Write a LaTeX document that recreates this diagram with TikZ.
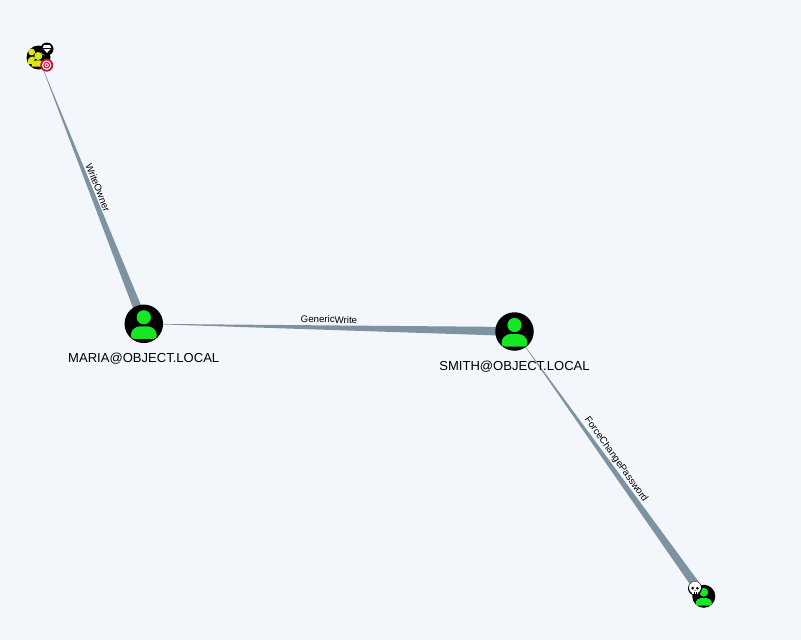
\documentclass[tikz,border=0pt]{standalone}
\usepackage{fontspec}
\setmainfont{Liberation Sans}
\usetikzlibrary{calc}
\definecolor{bgc}{HTML}{F3F7FB}
\definecolor{edgec}{HTML}{7D93A1}
\definecolor{usergreen}{HTML}{17E625}
\definecolor{groupyellow}{HTML}{DBE617}
\definecolor{targetred}{HTML}{C8102E}
\tikzset{
  disc/.style={circle,fill=black,inner sep=0pt,minimum size=#1},
  nodelabel/.style={font=\fontsize{13.05}{15}\selectfont,inner sep=0pt,text=black},
  edgelabel/.style={font=\fontsize{9.7}{11}\selectfont,inner sep=0pt,text=black},
  edgefill/.style={fill=edgec},
}
\newcommand{\personicon}[3]{% x y scale
  \begin{scope}[shift={(#1,#2)},scale=#3]
    \fill[usergreen] (0,-6.5) circle (7.1);
    \fill[usergreen] (-13,11.5) .. controls (-13,6) and (-8,2.5) .. (-4,2.5) -- (4,2.5) .. controls (8,2.5) and (13,6) .. (13,11.5) .. controls (13,13.5) and (12,15) .. (10,15) -- (-10,15) .. controls (-12,15) and (-13,13.5) .. (-13,11.5) -- cycle;
  \end{scope}}
\newcommand{\taperedge}[3]{% from to width
  \fill[edgefill] (#1.center) -- ($(#2.center)!#3!90:(#1.center)$) -- ($(#2.center)!#3!-90:(#1.center)$) -- cycle;}
\begin{document}
\begin{tikzpicture}[x=1pt,y=-1pt]
\useasboundingbox (0,0) rectangle (801,640);
\fill[bgc] (0,0) rectangle (801,640);
% node anchors
\coordinate (dom) at (38.5,57.5);
\coordinate (maria) at (143.8,323.8);
\coordinate (smith) at (514.5,331.5);
\coordinate (owned) at (703.8,596.3);
% edges
\taperedge{dom}{maria}{4.5pt}
\taperedge{maria}{smith}{4.5pt}
\taperedge{smith}{owned}{4.5pt}
% edge labels
\node[edgelabel,rotate=-68.5] (l1) at (98,187.5) {WriteOwner};
\node[edgelabel,rotate=-1.2] (l2) at (329,319.5) {GenericWrite};
\node[edgelabel,rotate=-54.4] (l3) at (616,459.5) {ForceChangePassword};
% big user nodes
\node[disc=38.5pt] (mariaN) at (maria) {};
\personicon{143.8}{323.8}{1}
\node[disc=38.5pt] (smithN) at (smith) {};
\personicon{514.5}{331.5}{1}
\node[nodelabel] (mariaL) at (143.7,358.3) {MARIA@OBJECT.LOCAL};
\node[nodelabel] (smithL) at (514.5,366.3) {SMITH@OBJECT.LOCAL};
% group node
\node[disc=24pt] (domN) at (dom) {};
\fill[groupyellow] (38.3,56) circle (4);
\fill[groupyellow] (31.7,52) circle (3.4);
\fill[groupyellow] (44.5,52) circle (3.4);
\fill[groupyellow] (27.5,63.8) .. controls (27.5,58) and (30,56.6) .. (33,56.6) -- (35.5,58) -- (32.5,63.8) -- cycle;
\fill[groupyellow] (31.5,66.5) .. controls (31.5,61.5) and (34.5,60.3) .. (38,60.3) .. controls (41.5,60.3) and (44.5,61.5) .. (44.5,66.5) -- cycle;
% gem badge
\fill[black] (47,49) circle (6.5);
\fill[white] (47,52.8) -- (42.6,48.2) -- (44,45.2) -- (50,45.2) -- (51.4,48.2) -- cycle;
\draw[black,line width=.3pt] (43,48.2) -- (51,48.2);
% target badge
\fill[targetred] (46.7,65.2) circle (6.5);
\fill[white] (46.7,65.2) circle (4.7);
\fill[targetred] (46.7,65.2) circle (3.4);
\fill[white] (46.7,65.2) circle (2.1);
\fill[targetred] (46.7,65.2) circle (1);
% owned node
\node[disc=23pt] (ownedN) at (owned) {};
\personicon{703.8}{596.3}{.62}
% skull badge
\fill[black] (695,588.3) circle (7);
\fill[white] (695,587.6) circle (6);
\fill[white] (692,590) rectangle (698,593.9);
\fill[black] (692.7,588.2) circle (1.5);
\fill[black] (697.3,588.2) circle (1.5);
\fill[black] (695,590.4) circle (.6);
\draw[black,line width=.35pt] (694,592.2) -- (694,593.9) (696,592.2) -- (696,593.9);
\end{tikzpicture}
\end{document}
